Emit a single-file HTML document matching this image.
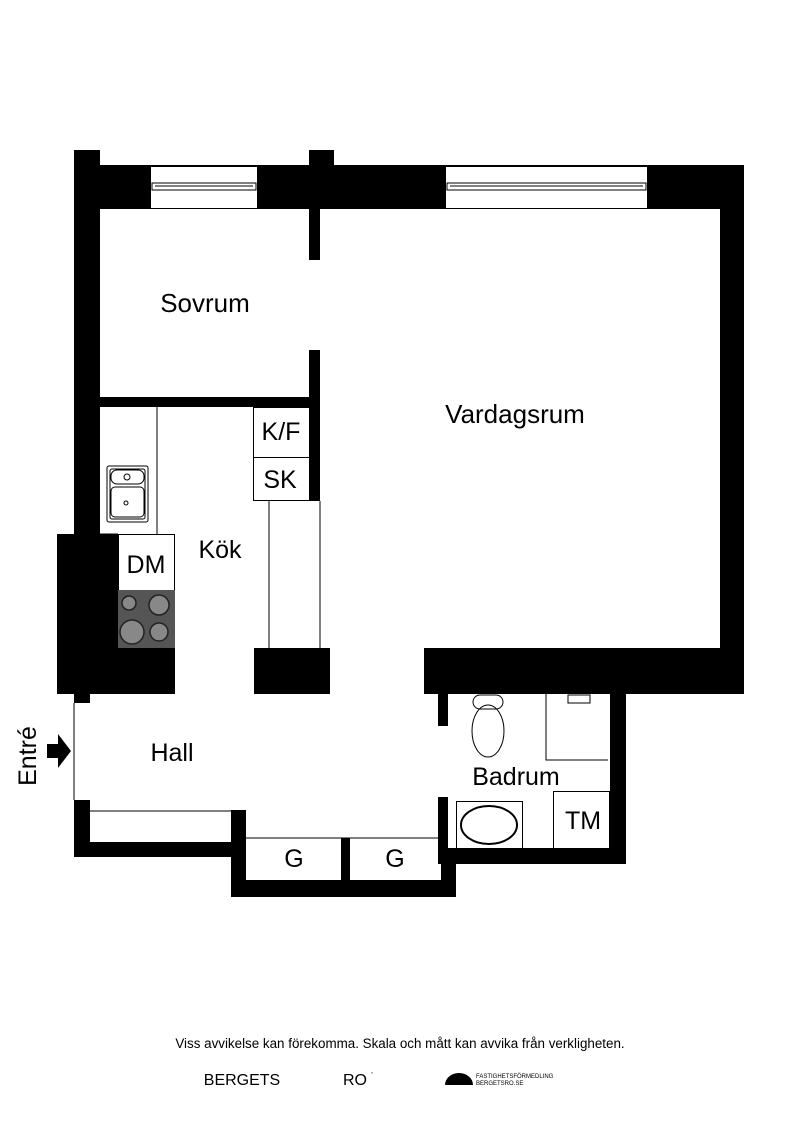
<!DOCTYPE html>
<html><head><meta charset="utf-8"><style>
html,body{margin:0;padding:0;background:#fff;width:800px;height:1131px;overflow:hidden}
svg{display:block}
text{font-family:"Liberation Sans",Arial,sans-serif;fill:#000}
</style></head><body>
<svg width="800" height="1131" viewBox="0 0 800 1131" xmlns="http://www.w3.org/2000/svg">
<g fill="#000">
<rect x="74" y="150" width="26" height="16"/>
<rect x="309" y="150" width="25" height="16"/>
<rect x="74" y="165" width="670" height="44"/>
<rect x="74" y="165" width="26" height="370"/>
<rect x="720" y="165" width="24" height="529"/>
<rect x="309" y="209" width="11" height="51"/>
<rect x="309" y="350" width="11" height="151"/>
<rect x="100" y="397" width="220" height="10"/>
<rect x="57" y="534" width="61" height="160"/>
<rect x="100" y="648" width="75" height="46"/>
<rect x="74" y="694" width="16" height="9"/>
<rect x="254" y="648" width="76" height="46"/>
<rect x="424" y="648" width="320" height="46"/>
<rect x="610" y="694" width="16" height="170"/>
<rect x="438" y="694" width="10" height="32"/>
<rect x="438" y="797" width="10" height="67"/>
<rect x="438" y="848" width="188" height="16"/>
<rect x="231" y="810" width="15" height="87"/>
<rect x="231" y="880" width="225" height="17"/>
<rect x="441" y="848" width="15" height="49"/>
<rect x="341" y="838" width="9" height="42"/>
<rect x="74" y="800" width="16" height="57"/>
<rect x="74" y="842" width="172" height="15"/>
</g>
<g fill="#fff" stroke="#000" stroke-width="1">
<rect x="150.5" y="166.5" width="107" height="42"/>
<rect x="445.5" y="166.5" width="202" height="42"/>
</g>
<g fill="none" stroke="#000" stroke-width="1">
<rect x="152" y="183" width="104" height="7"/>
<line x1="155" y1="186" x2="253" y2="186"/>
<rect x="447" y="183" width="199" height="7"/>
<line x1="450" y1="186" x2="643" y2="186"/>
<line x1="157" y1="407" x2="157" y2="534"/>
<line x1="100" y1="534" x2="118" y2="534"/>
<rect x="118.5" y="534.5" width="56" height="56"/>
<rect x="253.5" y="407.5" width="56" height="50"/>
<rect x="253.5" y="457.5" width="56" height="43"/>
<line x1="269" y1="501" x2="269" y2="648"/>
<line x1="320" y1="501" x2="320" y2="648"/>
<line x1="74" y1="703" x2="74" y2="800"/>
<line x1="90" y1="811" x2="231" y2="811"/>
<line x1="246" y1="838" x2="438" y2="838"/>
<path d="M546 694 V760 H608"/>
<rect x="456.5" y="801.5" width="66" height="47"/>
<ellipse cx="489" cy="825" rx="28" ry="19" stroke-width="2"/>
<rect x="553.5" y="791.5" width="56" height="57"/>
<rect x="473" y="695" width="30" height="14" rx="7"/>
<ellipse cx="488" cy="731" rx="16" ry="26"/>
<rect x="107" y="466" width="41" height="56" rx="2"/>
<rect x="110" y="469" width="35" height="50" rx="2"/>
<rect x="111" y="470" width="33" height="14" rx="6"/>
<rect x="111" y="487" width="33" height="30" rx="4"/>
<circle cx="127" cy="477" r="3"/>
<circle cx="126" cy="503" r="2"/>
</g>
<rect x="118" y="590" width="57" height="58" fill="#555"/>
<g fill="#888" stroke="#222" stroke-width="1.5">
<circle cx="129" cy="603" r="7"/><circle cx="159" cy="605" r="10"/>
<circle cx="132" cy="632" r="12"/><circle cx="159" cy="632" r="9"/>
</g>
<rect x="568" y="695" width="22" height="8" fill="none" stroke="#000"/>
<path d="M47 744 H58 V734 L71 751 L58 768 V758 H47 Z" fill="#000"/>
<text x="205" y="312" font-size="26" text-anchor="middle">Sovrum</text>
<text x="515" y="423" font-size="26" text-anchor="middle">Vardagsrum</text>
<text x="220" y="558" font-size="25" text-anchor="middle">Kök</text>
<text x="172" y="761" font-size="25" text-anchor="middle">Hall</text>
<text x="516" y="785" font-size="25" text-anchor="middle">Badrum</text>
<text x="281" y="440" font-size="25" text-anchor="middle">K/F</text>
<text x="280" y="488" font-size="25" text-anchor="middle">SK</text>
<text x="146" y="573" font-size="25" text-anchor="middle">DM</text>
<text x="583" y="829" font-size="25" text-anchor="middle">TM</text>
<text x="294" y="867" font-size="25" text-anchor="middle">G</text>
<text x="395" y="867" font-size="25" text-anchor="middle">G</text>
<text x="0" y="0" font-size="25" text-anchor="middle" transform="translate(36 756) rotate(-90)">Entré</text>
<text x="400" y="1048" font-size="13.4" text-anchor="middle">Viss avvikelse kan förekomma. Skala och mått kan avvika från verkligheten.</text>
<text x="242" y="1085" font-size="16" text-anchor="middle">BERGETS</text>
<text x="355" y="1085" font-size="16" text-anchor="middle">RO</text>
<text x="371" y="1077" font-size="6">˚</text>
<path d="M445 1085 A14 12 0 0 1 473 1085 Z" fill="#000"/>
<text x="476" y="1078" font-size="6">FASTIGHETSFÖRMEDLING</text>
<text x="476" y="1085" font-size="6">BERGETSRO.SE</text>
</svg>
</body></html>
